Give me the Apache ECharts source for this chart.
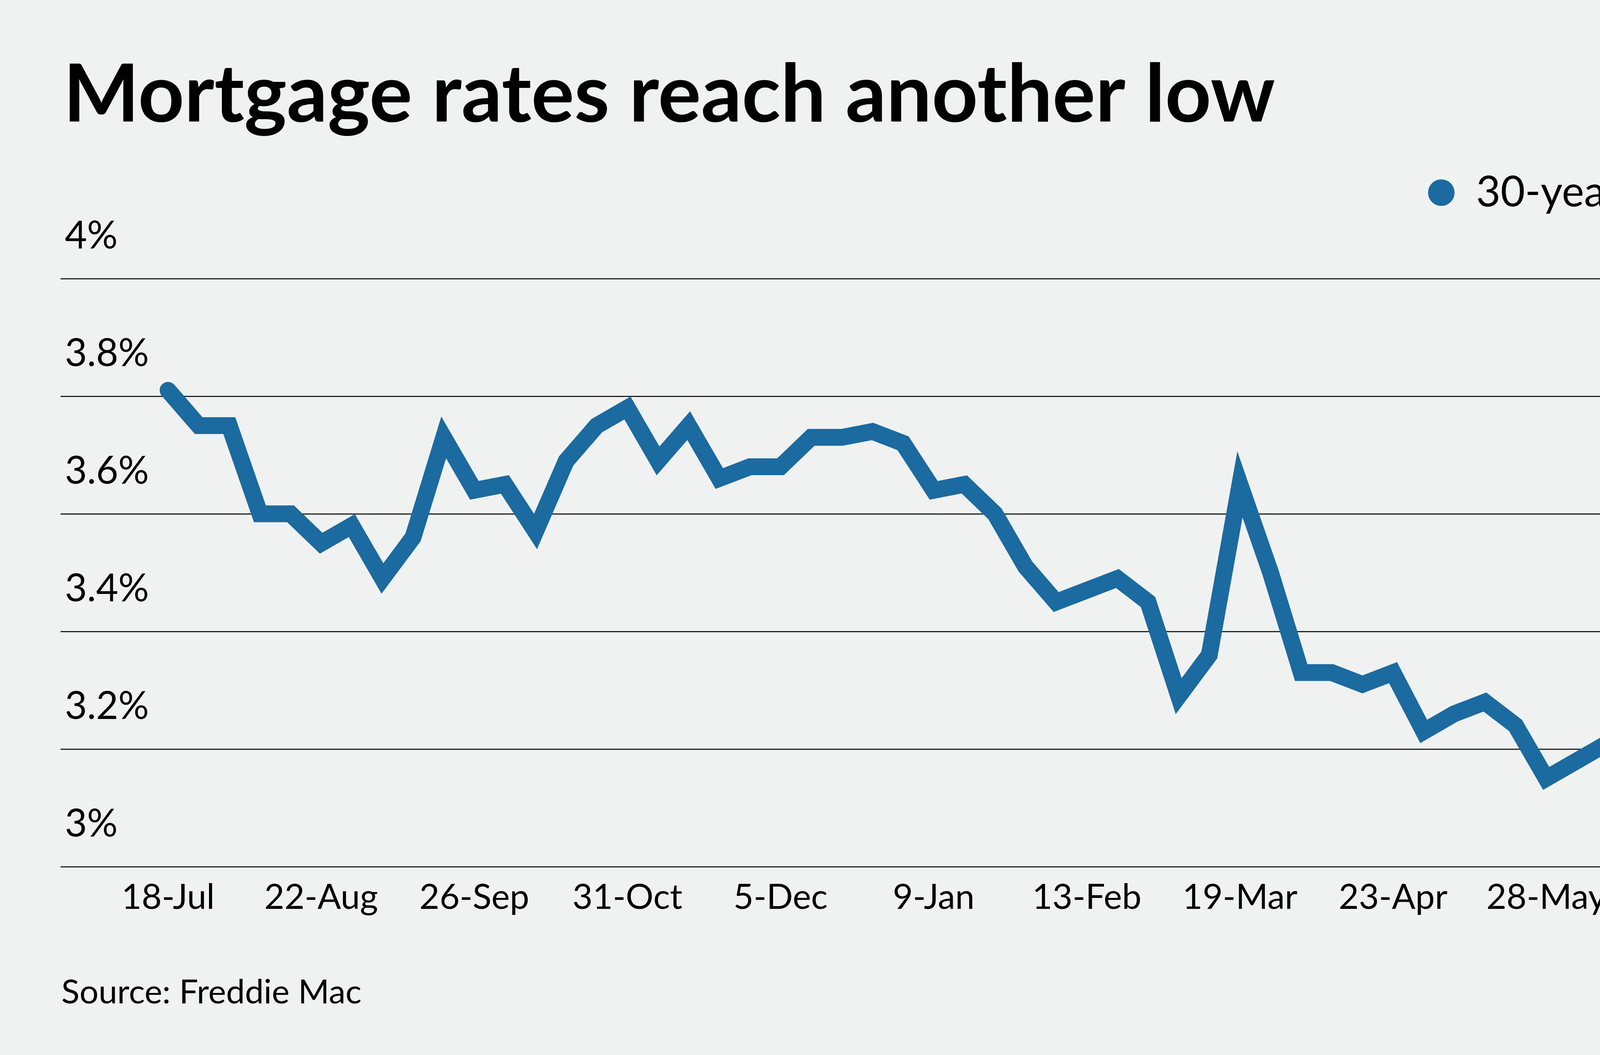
<!DOCTYPE html>
<html>
<head>
<meta charset="utf-8">
<style>
  html, body { margin: 0; padding: 0; background: #f0f2f1; }
  #main { width: 4800px; height: 2700px; }
</style>
<script src="https://cdn.jsdelivr.net/npm/echarts@6/dist/echarts.min.js"></script>
</head>
<body>
<div id="main"></div>
<script>
// weekly dates, 18-Jul to 2-Jul
var weeks = ['18-Jul','25-Jul','1-Aug','8-Aug','15-Aug','22-Aug','29-Aug','5-Sep','12-Sep','19-Sep',
  '26-Sep','3-Oct','10-Oct','17-Oct','24-Oct','31-Oct','7-Nov','14-Nov','21-Nov','28-Nov',
  '5-Dec','12-Dec','19-Dec','26-Dec','2-Jan','9-Jan','16-Jan','23-Jan','30-Jan','6-Feb',
  '13-Feb','20-Feb','27-Feb','5-Mar','12-Mar','19-Mar','26-Mar','2-Apr','9-Apr','16-Apr',
  '23-Apr','30-Apr','7-May','14-May','21-May','28-May','4-Jun','11-Jun','18-Jun','25-Jun','2-Jul'];
// 30-year FRM, percent
var frm = [3.81,3.75,3.75,3.60,3.60,3.55,3.58,3.49,3.56,3.73,
  3.64,3.65,3.57,3.69,3.75,3.78,3.69,3.75,3.66,3.68,
  3.68,3.73,3.73,3.74,3.72,3.64,3.65,3.60,3.51,3.45,
  3.47,3.49,3.45,3.29,3.36,3.65,3.50,3.33,3.33,3.31,
  3.33,3.23,3.26,3.28,3.24,3.15,3.18,3.21,3.13,3.13,3.07];
// which weeks get a label on the x axis
var labelWeeks = [0,5,10,15,20,25,30,35,40,45,50];

var seriesName = '30-year FRM';
var font = 'Lato';

var points = [];
for (var i = 0; i < frm.length; i++) {
  points.push([i, frm[i]]);
}

var myChart = echarts.init(document.getElementById('main'));

var option = {
  backgroundColor: '#f0f2f1',
  animation: false,
  textStyle: { fontFamily: font },
  title: [
    {
      text: 'Mortgage rates reach another low',
      left: 157,
      top: 137,
      textStyle: { fontFamily: font, fontSize: 206, fontWeight: 'bold', color: '#000', lineHeight: 206 }
    },
    {
      text: 'Source: Freddie Mac',
      left: 152,
      top: 2492,
      textStyle: { fontFamily: font, fontSize: 86, fontWeight: 'normal', color: '#000', lineHeight: 86 }
    }
  ],
  legend: {
    data: [seriesName],
    right: 390,
    top: 434,
    icon: 'circle',
    itemWidth: 68,
    itemHeight: 68,
    textStyle: { fontFamily: font, fontSize: 108, color: '#000', lineHeight: 108, padding: [0, 0, 0, 50] }
  },
  grid: { left: 155, right: 351, top: 713, bottom: 482, containLabel: false },
  xAxis: {
    type: 'value',
    min: -3.51,
    max: 51.26,
    axisLine: { show: false },
    axisTick: { show: false },
    splitLine: { show: false },
    axisLabel: {
      customValues: labelWeeks,
      margin: 35,
      fontFamily: font,
      fontSize: 89,
      lineHeight: 89,
      color: '#000',
      formatter: function (v) { return weeks[Math.round(v)] || ''; }
    }
  },
  yAxis: {
    type: 'value',
    min: 3,
    max: 4,
    interval: 0.2,
    axisLine: { show: false },
    axisTick: { show: false },
    splitLine: { lineStyle: { color: '#222', width: 3 } },
    axisLabel: {
      inside: true,
      margin: 11,
      verticalAlign: 'bottom',
      padding: [0, 0, 60, 0],
      fontFamily: font,
      fontSize: 98,
      lineHeight: 98,
      color: '#000',
      formatter: function (v) { return (Math.round(v * 10) / 10) + '%'; }
    }
  },
  series: [
    {
      name: seriesName,
      type: 'line',
      data: points,
      symbol: 'none',
      color: '#1b6aa0',
      lineStyle: { width: 43, color: '#1b6aa0', cap: 'round', join: 'miter', miterLimit: 20 }
    }
  ]
};

myChart.setOption(option);
</script>
</body>
</html>
